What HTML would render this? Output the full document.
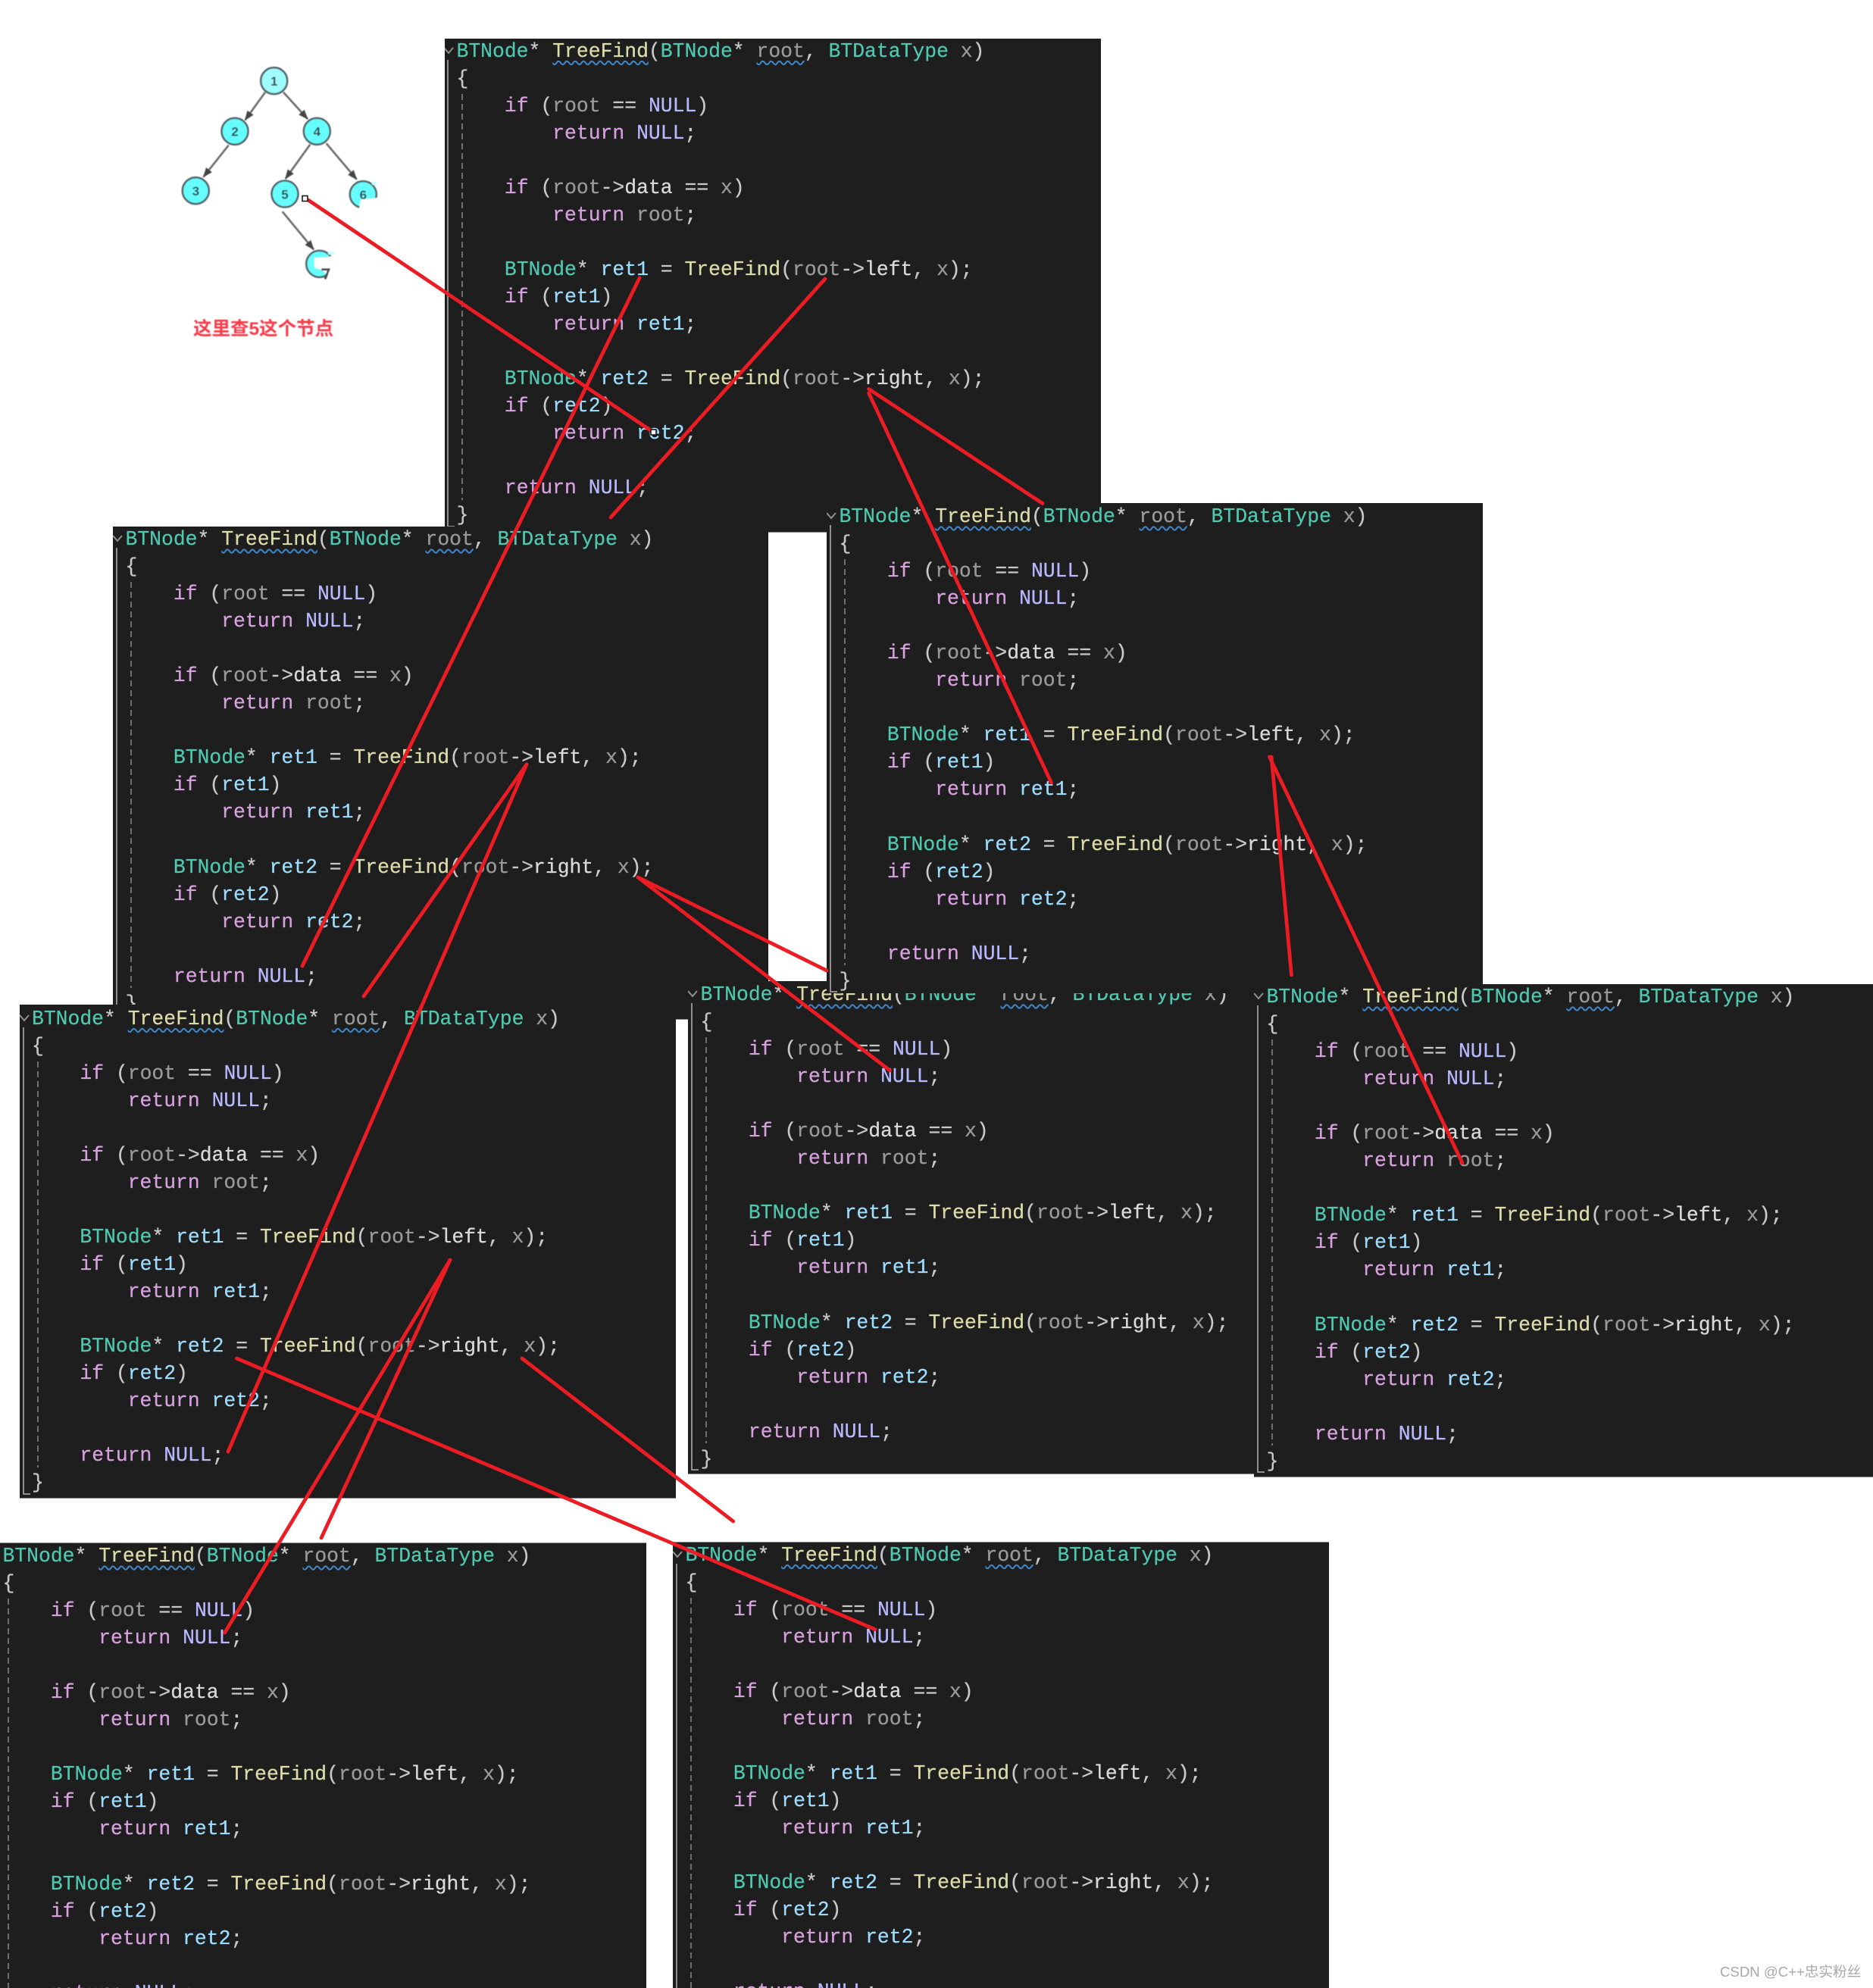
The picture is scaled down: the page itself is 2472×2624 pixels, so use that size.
<!DOCTYPE html>
<html lang="zh">
<head>
<meta charset="utf-8">
<title>TreeFind</title>
<style>
html,body{margin:0;padding:0;background:#fff;width:2472px;height:2624px;overflow:hidden}
#page{position:relative;width:2472px;height:2624px;background:#fff;overflow:hidden}
.p{position:absolute;background:#1e1e1e;overflow:hidden;box-shadow:inset 0 -1px 0 #8a8a8a}
.o{position:absolute;width:0;height:0}
pre{position:absolute;left:-0.5px;top:-26px;margin:0;font:26.4px/36.05px "Liberation Mono",monospace;color:#c8c8c8;white-space:pre;-webkit-text-stroke:0.25px currentColor}
.v{position:absolute;left:-13px;top:3px;width:2px;height:617px;background:#8f8f8f}
.h{position:absolute;left:-13px;top:618px;width:10px;height:2px;background:#8f8f8f}
.d{position:absolute;left:6px;top:48px;width:2px;height:536px;background:repeating-linear-gradient(#6e6e6e 0 8px,transparent 8px 13px)}
.c{position:absolute;left:-18px;top:-14px;width:14px;height:10px}
.t{color:#4ec9b0}.f{color:#dcdcaa}.k{color:#d8a0df}.n{color:#b8b8ff}.r{color:#9cdcfe}.g{color:#9a9a9a}.w{color:#dadada}
.s{text-decoration:underline wavy #3f86c8 1.5px;text-underline-offset:5px}
#ov{position:absolute;left:0;top:0;z-index:50}
#wm{position:absolute;left:2270px;top:2592px;z-index:60;font:18.6px/22px "Liberation Sans","Noto Sans CJK SC",sans-serif;color:#a8a8a8;white-space:nowrap}
</style>
</head>
<body>
<div id="page">

<!-- P1 -->
<div class="p" style="left:587px;top:51px;width:866px;height:652px;z-index:1"><div class="o" style="left:16px;top:24.7px"><svg class="c" viewBox="0 0 14 10"><path d="M1 1L7 8L13 1" fill="none" stroke="#8f8f8f" stroke-width="2"/></svg><div class="v"></div><div class="h"></div><div class="d"></div>
<pre><span class="t">BTNode</span>* <span class="f s">TreeFind</span>(<span class="t">BTNode</span>* <span class="g s">root</span>, <span class="t">BTDataType</span> <span class="g">x</span>)
{
    <span class="k">if</span> (<span class="g">root</span> == <span class="n">NULL</span>)
        <span class="k">return</span> <span class="n">NULL</span>;

    <span class="k">if</span> (<span class="g">root</span>-&gt;<span class="w">data</span> == <span class="g">x</span>)
        <span class="k">return</span> <span class="g">root</span>;

    <span class="t">BTNode</span>* <span class="r">ret1</span> = <span class="f">TreeFind</span>(<span class="g">root</span>-&gt;<span class="w">left</span>, <span class="g">x</span>);
    <span class="k">if</span> (<span class="r">ret1</span>)
        <span class="k">return</span> <span class="r">ret1</span>;

    <span class="t">BTNode</span>* <span class="r">ret2</span> = <span class="f">TreeFind</span>(<span class="g">root</span>-&gt;<span class="w">right</span>, <span class="g">x</span>);
    <span class="k">if</span> (<span class="r">ret2</span>)
        <span class="k">return</span> <span class="r">ret2</span>;

    <span class="k">return</span> <span class="n">NULL</span>;
}</pre></div></div>

<!-- P2 -->
<div class="p" style="left:149px;top:695px;width:865px;height:651px;z-index:2"><div class="o" style="left:17px;top:25px"><svg class="c" viewBox="0 0 14 10"><path d="M1 1L7 8L13 1" fill="none" stroke="#8f8f8f" stroke-width="2"/></svg><div class="v"></div><div class="h"></div><div class="d"></div>
<pre><span class="t">BTNode</span>* <span class="f s">TreeFind</span>(<span class="t">BTNode</span>* <span class="g s">root</span>, <span class="t">BTDataType</span> <span class="g">x</span>)
{
    <span class="k">if</span> (<span class="g">root</span> == <span class="n">NULL</span>)
        <span class="k">return</span> <span class="n">NULL</span>;

    <span class="k">if</span> (<span class="g">root</span>-&gt;<span class="w">data</span> == <span class="g">x</span>)
        <span class="k">return</span> <span class="g">root</span>;

    <span class="t">BTNode</span>* <span class="r">ret1</span> = <span class="f">TreeFind</span>(<span class="g">root</span>-&gt;<span class="w">left</span>, <span class="g">x</span>);
    <span class="k">if</span> (<span class="r">ret1</span>)
        <span class="k">return</span> <span class="r">ret1</span>;

    <span class="t">BTNode</span>* <span class="r">ret2</span> = <span class="f">TreeFind</span>(<span class="g">root</span>-&gt;<span class="w">right</span>, <span class="g">x</span>);
    <span class="k">if</span> (<span class="r">ret2</span>)
        <span class="k">return</span> <span class="r">ret2</span>;

    <span class="k">return</span> <span class="n">NULL</span>;
}</pre></div></div>

<!-- P5 -->
<div class="p" style="left:908px;top:1295px;width:747px;height:651px;z-index:3"><div class="o" style="left:17px;top:26px"><svg class="c" viewBox="0 0 14 10"><path d="M1 1L7 8L13 1" fill="none" stroke="#8f8f8f" stroke-width="2"/></svg><div class="v"></div><div class="h"></div><div class="d"></div>
<pre><span class="t">BTNode</span>* <span class="f s">TreeFind</span>(<span class="t">BTNode</span>* <span class="g s">root</span>, <span class="t">BTDataType</span> <span class="g">x</span>)
{
    <span class="k">if</span> (<span class="g">root</span> == <span class="n">NULL</span>)
        <span class="k">return</span> <span class="n">NULL</span>;

    <span class="k">if</span> (<span class="g">root</span>-&gt;<span class="w">data</span> == <span class="g">x</span>)
        <span class="k">return</span> <span class="g">root</span>;

    <span class="t">BTNode</span>* <span class="r">ret1</span> = <span class="f">TreeFind</span>(<span class="g">root</span>-&gt;<span class="w">left</span>, <span class="g">x</span>);
    <span class="k">if</span> (<span class="r">ret1</span>)
        <span class="k">return</span> <span class="r">ret1</span>;

    <span class="t">BTNode</span>* <span class="r">ret2</span> = <span class="f">TreeFind</span>(<span class="g">root</span>-&gt;<span class="w">right</span>, <span class="g">x</span>);
    <span class="k">if</span> (<span class="r">ret2</span>)
        <span class="k">return</span> <span class="r">ret2</span>;

    <span class="k">return</span> <span class="n">NULL</span>;
}</pre></div></div>

<!-- P3 -->
<div class="p" style="left:1091px;top:664px;width:866px;height:647px;z-index:4;box-shadow:none"><div class="o" style="left:17px;top:26px"><svg class="c" viewBox="0 0 14 10"><path d="M1 1L7 8L13 1" fill="none" stroke="#8f8f8f" stroke-width="2"/></svg><div class="v"></div><div class="h"></div><div class="d"></div>
<pre><span class="t">BTNode</span>* <span class="f s">TreeFind</span>(<span class="t">BTNode</span>* <span class="g s">root</span>, <span class="t">BTDataType</span> <span class="g">x</span>)
{
    <span class="k">if</span> (<span class="g">root</span> == <span class="n">NULL</span>)
        <span class="k">return</span> <span class="n">NULL</span>;

    <span class="k">if</span> (<span class="g">root</span>-&gt;<span class="w">data</span> == <span class="g">x</span>)
        <span class="k">return</span> <span class="g">root</span>;

    <span class="t">BTNode</span>* <span class="r">ret1</span> = <span class="f">TreeFind</span>(<span class="g">root</span>-&gt;<span class="w">left</span>, <span class="g">x</span>);
    <span class="k">if</span> (<span class="r">ret1</span>)
        <span class="k">return</span> <span class="r">ret1</span>;

    <span class="t">BTNode</span>* <span class="r">ret2</span> = <span class="f">TreeFind</span>(<span class="g">root</span>-&gt;<span class="w">right</span>, <span class="g">x</span>);
    <span class="k">if</span> (<span class="r">ret2</span>)
        <span class="k">return</span> <span class="r">ret2</span>;

    <span class="k">return</span> <span class="n">NULL</span>;
}</pre></div></div>

<!-- P6 -->
<div class="p" style="left:1655px;top:1299px;width:817px;height:651px;z-index:5"><div class="o" style="left:17px;top:25px"><svg class="c" viewBox="0 0 14 10"><path d="M1 1L7 8L13 1" fill="none" stroke="#8f8f8f" stroke-width="2"/></svg><div class="v"></div><div class="h"></div><div class="d"></div>
<pre><span class="t">BTNode</span>* <span class="f s">TreeFind</span>(<span class="t">BTNode</span>* <span class="g s">root</span>, <span class="t">BTDataType</span> <span class="g">x</span>)
{
    <span class="k">if</span> (<span class="g">root</span> == <span class="n">NULL</span>)
        <span class="k">return</span> <span class="n">NULL</span>;

    <span class="k">if</span> (<span class="g">root</span>-&gt;<span class="w">data</span> == <span class="g">x</span>)
        <span class="k">return</span> <span class="g">root</span>;

    <span class="t">BTNode</span>* <span class="r">ret1</span> = <span class="f">TreeFind</span>(<span class="g">root</span>-&gt;<span class="w">left</span>, <span class="g">x</span>);
    <span class="k">if</span> (<span class="r">ret1</span>)
        <span class="k">return</span> <span class="r">ret1</span>;

    <span class="t">BTNode</span>* <span class="r">ret2</span> = <span class="f">TreeFind</span>(<span class="g">root</span>-&gt;<span class="w">right</span>, <span class="g">x</span>);
    <span class="k">if</span> (<span class="r">ret2</span>)
        <span class="k">return</span> <span class="r">ret2</span>;

    <span class="k">return</span> <span class="n">NULL</span>;
}</pre></div></div>

<!-- P4 -->
<div class="p" style="left:26px;top:1326px;width:866px;height:652px;z-index:6"><div class="o" style="left:16.5px;top:26.7px"><svg class="c" viewBox="0 0 14 10"><path d="M1 1L7 8L13 1" fill="none" stroke="#8f8f8f" stroke-width="2"/></svg><div class="v"></div><div class="h"></div><div class="d"></div>
<pre><span class="t">BTNode</span>* <span class="f s">TreeFind</span>(<span class="t">BTNode</span>* <span class="g s">root</span>, <span class="t">BTDataType</span> <span class="g">x</span>)
{
    <span class="k">if</span> (<span class="g">root</span> == <span class="n">NULL</span>)
        <span class="k">return</span> <span class="n">NULL</span>;

    <span class="k">if</span> (<span class="g">root</span>-&gt;<span class="w">data</span> == <span class="g">x</span>)
        <span class="k">return</span> <span class="g">root</span>;

    <span class="t">BTNode</span>* <span class="r">ret1</span> = <span class="f">TreeFind</span>(<span class="g">root</span>-&gt;<span class="w">left</span>, <span class="g">x</span>);
    <span class="k">if</span> (<span class="r">ret1</span>)
        <span class="k">return</span> <span class="r">ret1</span>;

    <span class="t">BTNode</span>* <span class="r">ret2</span> = <span class="f">TreeFind</span>(<span class="g">root</span>-&gt;<span class="w">right</span>, <span class="g">x</span>);
    <span class="k">if</span> (<span class="r">ret2</span>)
        <span class="k">return</span> <span class="r">ret2</span>;

    <span class="k">return</span> <span class="n">NULL</span>;
}</pre></div></div>

<!-- P7 -->
<div class="p" style="left:0;top:2036px;width:853px;height:588px;z-index:7;box-shadow:inset 0 1px 0 #8a8a8a"><div class="o" style="left:4px;top:26px"><div class="d"></div>
<pre><span class="t">BTNode</span>* <span class="f s">TreeFind</span>(<span class="t">BTNode</span>* <span class="g s">root</span>, <span class="t">BTDataType</span> <span class="g">x</span>)
{
    <span class="k">if</span> (<span class="g">root</span> == <span class="n">NULL</span>)
        <span class="k">return</span> <span class="n">NULL</span>;

    <span class="k">if</span> (<span class="g">root</span>-&gt;<span class="w">data</span> == <span class="g">x</span>)
        <span class="k">return</span> <span class="g">root</span>;

    <span class="t">BTNode</span>* <span class="r">ret1</span> = <span class="f">TreeFind</span>(<span class="g">root</span>-&gt;<span class="w">left</span>, <span class="g">x</span>);
    <span class="k">if</span> (<span class="r">ret1</span>)
        <span class="k">return</span> <span class="r">ret1</span>;

    <span class="t">BTNode</span>* <span class="r">ret2</span> = <span class="f">TreeFind</span>(<span class="g">root</span>-&gt;<span class="w">right</span>, <span class="g">x</span>);
    <span class="k">if</span> (<span class="r">ret2</span>)
        <span class="k">return</span> <span class="r">ret2</span>;

    <span class="k">return</span> <span class="n">NULL</span>;
}</pre></div></div>

<!-- P8 -->
<div class="p" style="left:888px;top:2035px;width:866px;height:589px;z-index:8;box-shadow:inset 0 1px 0 #8a8a8a"><div class="o" style="left:17px;top:25.5px"><svg class="c" viewBox="0 0 14 10"><path d="M1 1L7 8L13 1" fill="none" stroke="#8f8f8f" stroke-width="2"/></svg><div class="v"></div><div class="h"></div><div class="d"></div>
<pre><span class="t">BTNode</span>* <span class="f s">TreeFind</span>(<span class="t">BTNode</span>* <span class="g s">root</span>, <span class="t">BTDataType</span> <span class="g">x</span>)
{
    <span class="k">if</span> (<span class="g">root</span> == <span class="n">NULL</span>)
        <span class="k">return</span> <span class="n">NULL</span>;

    <span class="k">if</span> (<span class="g">root</span>-&gt;<span class="w">data</span> == <span class="g">x</span>)
        <span class="k">return</span> <span class="g">root</span>;

    <span class="t">BTNode</span>* <span class="r">ret1</span> = <span class="f">TreeFind</span>(<span class="g">root</span>-&gt;<span class="w">left</span>, <span class="g">x</span>);
    <span class="k">if</span> (<span class="r">ret1</span>)
        <span class="k">return</span> <span class="r">ret1</span>;

    <span class="t">BTNode</span>* <span class="r">ret2</span> = <span class="f">TreeFind</span>(<span class="g">root</span>-&gt;<span class="w">right</span>, <span class="g">x</span>);
    <span class="k">if</span> (<span class="r">ret2</span>)
        <span class="k">return</span> <span class="r">ret2</span>;

    <span class="k">return</span> <span class="n">NULL</span>;
}</pre></div></div>

<svg id="ov" width="2472" height="2624" viewBox="0 0 2472 2624" xmlns="http://www.w3.org/2000/svg">
<defs>
<marker id="a" markerWidth="13" markerHeight="10" refX="12" refY="5" orient="auto" markerUnits="userSpaceOnUse"><path d="M0 0L13 5L0 10Z" fill="#444"/></marker>
<filter id="b" x="-5%" y="-5%" width="110%" height="110%"><feGaussianBlur stdDeviation="0.5"/></filter>
</defs>
<!-- tree -->
<g filter="url(#b)">
<g stroke="#6a6a6a" stroke-width="2.6" fill="none">
<line x1="350" y1="121.7" x2="323.5" y2="158.5" marker-end="url(#a)"/>
<line x1="374" y1="121.7" x2="406" y2="157" marker-end="url(#a)"/>
<line x1="301.7" y1="191.7" x2="268.5" y2="233.5" marker-end="url(#a)"/>
<line x1="409.3" y1="190.7" x2="376.7" y2="236" marker-end="url(#a)"/>
<line x1="430.7" y1="189.3" x2="470.7" y2="236.7" marker-end="url(#a)"/>
<line x1="372.7" y1="279.3" x2="414" y2="329.3" marker-end="url(#a)"/>
</g>
<g stroke="#55666a" stroke-width="2.6">
<circle cx="361.7" cy="106.7" r="17.5" fill="#9ffcfc"/>
<circle cx="310" cy="173.3" r="17.5" fill="#66ffff"/>
<circle cx="418.3" cy="173.3" r="17.5" fill="#66ffff"/>
<circle cx="258.3" cy="251.7" r="17.5" fill="#66ffff"/>
<circle cx="376" cy="256" r="17.5" fill="#66ffff"/>
<circle cx="479.3" cy="256.7" r="17.5" fill="#66ffff"/>
<circle cx="421.7" cy="348.3" r="17.5" fill="#66ffff"/>
</g>
<path d="M499 261L476 263L474 276L499 276Z" fill="#fff"/>
<path d="M414.3 340L433.3 339L443.3 336.7L443.3 365L435 365L425 356.7L415 353.3Z" fill="#fff"/>
<rect x="491" y="240" width="6" height="4" fill="#c8ffff"/>
<rect x="433" y="332" width="8" height="4" fill="#c8ffff"/>
<path d="M424.3 355.7L434 355.7L429 368.3" fill="none" stroke="#444" stroke-width="2.8"/>
<g font-family="'Liberation Sans',sans-serif" font-weight="bold" font-size="17" fill="#37474f" text-anchor="middle">
<text x="361.7" y="113">1</text><text x="310" y="179.5">2</text><text x="418.3" y="179.5">4</text><text x="258.3" y="258">3</text><text x="376" y="262.5">5</text><text x="479.3" y="263">6</text>
</g>
<text x="255" y="442" font-family="'Liberation Sans','Noto Sans CJK SC',sans-serif" font-weight="bold" font-size="24.5" fill="#f93a4a">这里查5这个节点</text>
</g>
<!-- red connectors -->
<g stroke="#ec1c24" stroke-width="4.8" stroke-linecap="round" fill="none">
<line x1="406.7" y1="264" x2="862.7" y2="570.7"/>
<line x1="844" y1="367" x2="399" y2="1275"/>
<line x1="1089" y1="368" x2="806" y2="683"/>
<line x1="1146.7" y1="513.5" x2="1376" y2="664.5"/>
<line x1="1146.7" y1="519" x2="1387.5" y2="1033"/>
<line x1="1678" y1="999" x2="1704.5" y2="1287"/>
<line x1="1675.5" y1="999" x2="1930" y2="1535"/>
<line x1="695" y1="1009" x2="480" y2="1315"/>
<line x1="695" y1="1009" x2="301" y2="1916"/>
<line x1="842" y1="1158" x2="1091" y2="1281"/>
<line x1="842" y1="1158" x2="1174.6" y2="1413"/>
<line x1="594" y1="1663" x2="296.6" y2="2155"/>
<line x1="594" y1="1663" x2="424" y2="2030"/>
<line x1="312.5" y1="1793" x2="1155" y2="2150.7"/>
<line x1="689" y1="1793" x2="967.7" y2="2008"/>
</g>
<rect x="399" y="258.5" width="7" height="7" fill="#fff" stroke="#111" stroke-width="1.5"/>
<rect x="859" y="567" width="7" height="7" fill="#fff" stroke="#111" stroke-width="1.5"/>
</svg>

<div id="wm">CSDN @C++忠实粉丝</div>
</div>
</body>
</html>
